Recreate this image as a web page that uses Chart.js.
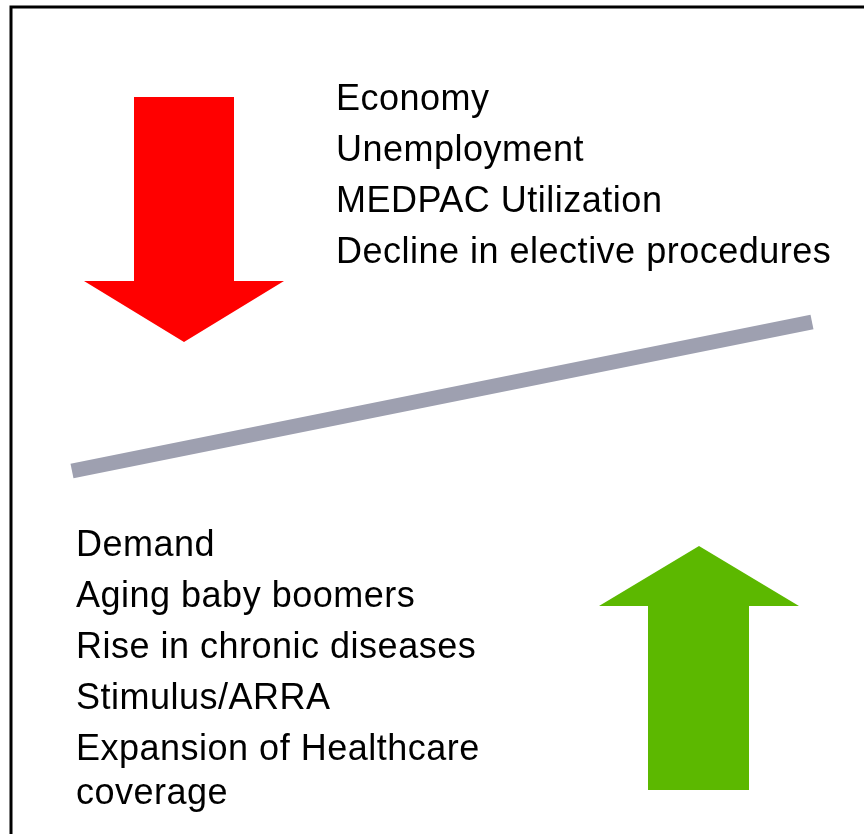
<!DOCTYPE html>
<html>
<head>
<meta charset="utf-8">
<script src="https://cdn.jsdelivr.net/npm/chart.js@4/dist/chart.umd.min.js"></script>
<style>
  html, body { margin: 0; padding: 0; background: #fff; }
  #wrap { width: 864px; height: 834px; position: relative; }
</style>
</head>
<body>
<div id="wrap"><canvas id="diagram"></canvas></div>
<script>
// Forces pulling down (top) and pushing up (bottom)
const downFactors = ['Economy', 'Unemployment', 'MEDPAC Utilization', 'Decline in elective procedures'];
const upFactors = ['Demand', 'Aging baby boomers', 'Rise in chronic diseases', 'Stimulus/ARRA', 'Expansion of Healthcare', 'coverage'];

// Balance beam (two ends)
const beamX = [72, 812];
const beamY = [471, 322];

// Red down arrow outline
const downArrowX = [134, 234, 234, 284, 184, 84, 134, 134];
const downArrowY = [97, 97, 281, 281, 342, 281, 281, 97];

// Green up arrow outline
const upArrowX = [648, 749, 749, 799, 699, 599, 648, 648];
const upArrowY = [790, 790, 606, 606, 546, 606, 606, 790];

function toPoints(xs, ys) {
  return xs.map((x, i) => ({ x: x, y: ys[i] }));
}

// Frame + text labels
const labelPlugin = {
  id: 'labels',
  beforeDatasetsDraw(chart) {
    const ctx = chart.ctx;
    const xs = chart.scales.x, ys = chart.scales.y;
    ctx.save();
    ctx.strokeStyle = '#000';
    ctx.lineWidth = 3;
    ctx.beginPath();
    ctx.moveTo(xs.getPixelForValue(11), ys.getPixelForValue(834));
    ctx.lineTo(xs.getPixelForValue(11), ys.getPixelForValue(7));
    ctx.lineTo(xs.getPixelForValue(864), ys.getPixelForValue(7));
    ctx.stroke();
    ctx.restore();
  },
  afterDraw(chart) {
    const ctx = chart.ctx;
    const xs = chart.scales.x, ys = chart.scales.y;
    ctx.save();
    ctx.fillStyle = '#000';
    ctx.font = '36px "Liberation Sans", Arial, sans-serif';
    ctx.letterSpacing = '0.5px';
    ctx.textBaseline = 'alphabetic';
    ctx.textAlign = 'left';
    const topBase = [110, 161, 212, 263];
    downFactors.forEach((t, i) => {
      ctx.fillText(t, xs.getPixelForValue(336), ys.getPixelForValue(topBase[i]));
    });
    const botBase = [556, 607, 658, 709, 760, 804];
    upFactors.forEach((t, i) => {
      ctx.fillText(t, xs.getPixelForValue(76), ys.getPixelForValue(botBase[i]));
    });
    ctx.restore();
  }
};

new Chart(document.getElementById('diagram'), {
  type: 'scatter',
  data: {
    datasets: [
      {
        data: toPoints(downArrowX, downArrowY),
        showLine: true,
        borderWidth: 0,
        borderColor: '#ff0000',
        backgroundColor: '#ff0000',
        fill: 'shape',
        pointRadius: 0,
        tension: 0
      },
      {
        data: toPoints(upArrowX, upArrowY),
        showLine: true,
        borderWidth: 0,
        borderColor: '#5cb800',
        backgroundColor: '#5cb800',
        fill: 'shape',
        pointRadius: 0,
        tension: 0
      },
      {
        data: toPoints(beamX, beamY),
        showLine: true,
        borderWidth: 15,
        borderCapStyle: 'butt',
        borderColor: '#9ea0b0',
        pointRadius: 0,
        fill: false
      }
    ]
  },
  options: {
    responsive: true,
    maintainAspectRatio: false,
    animation: false,
    layout: { padding: 0 },
    plugins: {
      legend: { display: false },
      tooltip: { enabled: false }
    },
    scales: {
      x: { type: 'linear', min: 0, max: 864, display: false },
      y: { type: 'linear', min: 0, max: 834, reverse: true, display: false }
    }
  },
  plugins: [labelPlugin]
});
</script>
</body>
</html>
